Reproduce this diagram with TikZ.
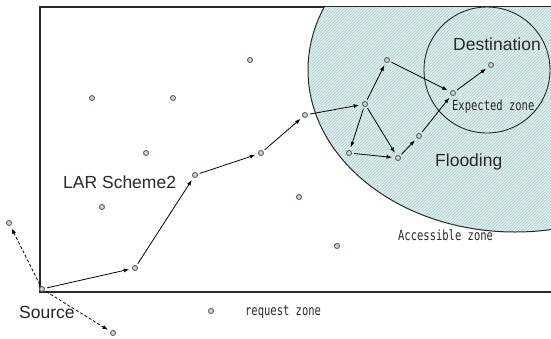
\documentclass[tikz,border=0pt]{standalone}
\usepackage{fontspec}
\setmainfont{Liberation Sans}
\newfontfamily\zonefont{DejaVu Sans Mono}
\usetikzlibrary{patterns,arrows.meta}
\definecolor{hatchbg}{RGB}{222,240,240}
\definecolor{hatchline}{RGB}{178,204,208}
\definecolor{dotline}{RGB}{90,100,100}
\definecolor{dotfill}{RGB}{205,215,210}
\definecolor{inkc}{RGB}{40,40,40}
\tikzset{
  dot/.style={circle,minimum size=5pt,inner sep=0pt,draw=dotline,fill=dotfill,line width=0.9pt},
  hop/.style={-{Latex[length=5.5pt,width=4pt]},line width=0.8pt,black,shorten <=2pt,shorten >=3pt},
  dhop/.style={hop,dash pattern=on 3pt off 2pt},
  bigtext/.style={font=\fontsize{17.5pt}{20pt}\selectfont,text=inkc,inner sep=0pt,anchor=base west},
  zonetext/.style={font=\zonefont\fontsize{14pt}{16pt}\selectfont,text=inkc,inner sep=0pt,anchor=base west,xscale=0.75}
}
\begin{document}
\begin{tikzpicture}[x=1pt,y=-1pt]
\useasboundingbox (0,0) rectangle (551,338);
% frame
\draw[line width=1.2pt,inkc] (560,7) -- (40,7) -- (40,292) -- (560,292);
% accessible zone (hatched ellipse)
\begin{scope}
  \clip (40,7) rectangle (560,292);
  \fill[hatchbg] (515,70) ellipse [x radius=207pt, y radius=162pt];
  \fill[pattern=north east lines,pattern color=hatchline] (515,70) ellipse [x radius=207pt, y radius=162pt];
  \draw[line width=1pt,inkc] (515,70) ellipse [x radius=207pt, y radius=162pt];
\end{scope}
% expected zone circle
\draw[line width=0.9pt,inkc] (487,70) circle [radius=63pt];
% nodes
\node[dot] (src) at (42,289) {};
\node[dot] (a1) at (135,268) {};
\node[dot] (a2) at (195,175) {};
\node[dot] (a3) at (261,153) {};
\node[dot] (a4) at (305,115) {};
\node[dot] (a5) at (365,104) {};
\node[dot] (a6) at (387,60) {};
\node[dot] (a7) at (349,153) {};
\node[dot] (a8) at (398,158) {};
\node[dot] (a9) at (419,136) {};
\node[dot] (a10) at (453,93) {};
\node[dot] (a11) at (491,65) {};
\node[dot] (u1) at (9,223) {};
\node[dot] (u2) at (113,333) {};
\node[dot] (o1) at (250,60) {};
\node[dot] (o2) at (92,98) {};
\node[dot] (o3) at (173,98) {};
\node[dot] (o4) at (146,153) {};
\node[dot] (o5) at (102,207) {};
\node[dot] (o6) at (211,311) {};
\node[dot] (o7) at (299,197) {};
\node[dot] (o8) at (337,246) {};
% connectors
\draw[hop] (src) -- (a1);
\draw[hop] (a1) -- (a2);
\draw[hop] (a2) -- (a3);
\draw[hop] (a3) -- (a4);
\draw[hop] (a4) -- (a5);
\draw[hop] (a5) -- (a6);
\draw[hop] (a5) -- (a7);
\draw[hop] (a5) -- (a8);
\draw[hop] (a7) -- (a8);
\draw[hop] (a8) -- (a9);
\draw[hop] (a9) -- (a10);
\draw[hop] (a6) -- (a10);
\draw[hop] (a10) -- (a11);
\draw[dhop] (src) -- (u1);
\draw[dhop] (src) -- (u2);
% labels
\node[bigtext] (tdest) at (453,50) {Destination};
\node[bigtext] (tflood) at (435,166) {Flooding};
\node[bigtext] (tlar) at (63,188) {LAR Scheme2};
\node[bigtext] (tsrc) at (19,318) {Source};
\node[zonetext] (texp) at (452,110) {Expected zone};
\node[zonetext] (tacc) at (398,240) {Accessible zone};
\node[zonetext] (treq) at (245,315) {request zone};
\end{tikzpicture}
\end{document}
